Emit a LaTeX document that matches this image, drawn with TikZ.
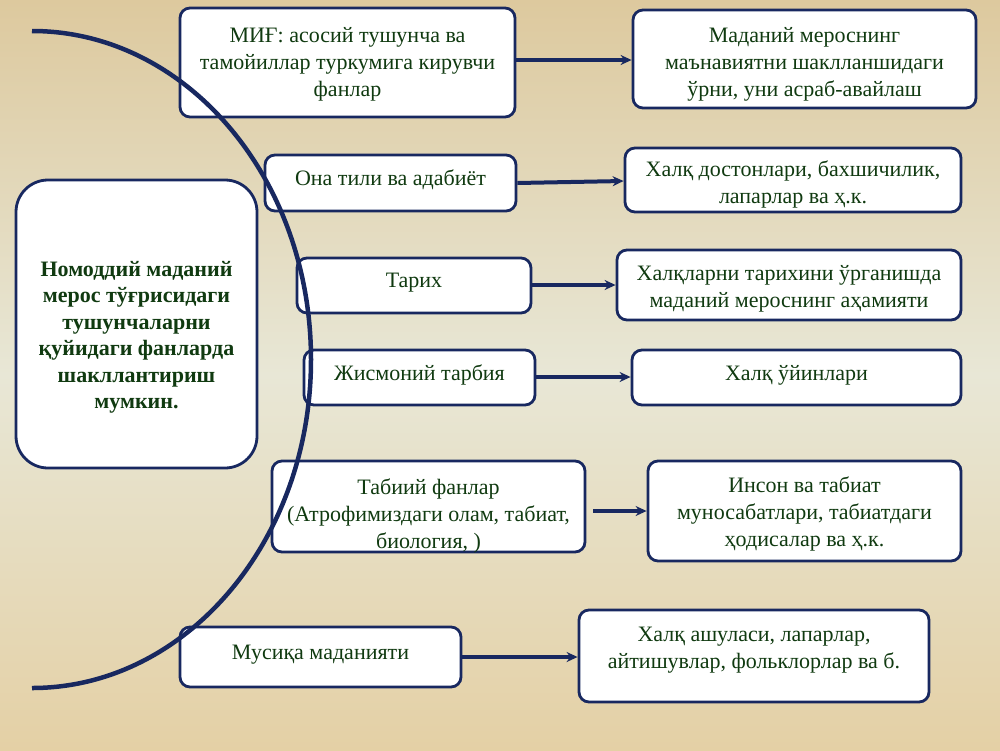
\documentclass[tikz,border=0pt]{standalone}
\usepackage{fontspec}
\setmainfont{Liberation Serif}
\usetikzlibrary{arrows.meta}
\definecolor{navy}{RGB}{24,40,96}
\definecolor{txtgreen}{RGB}{16,58,16}
\definecolor{bgtan}{RGB}{221,201,158}
\definecolor{bgmid}{RGB}{232,231,214}
\definecolor{bgbot}{RGB}{228,208,165}
\tikzset{
  box/.style={draw=navy, line width=2.8pt, fill=white, rounded corners=10pt,
    inner sep=0pt, align=center, text=txtgreen,
    font=\fontsize{22}{27}\selectfont},
  bigbox/.style={box, rounded corners=32pt, font=\fontsize{22}{26.5}\selectfont\bfseries},
  link/.style={draw=navy, line width=4pt, -{Stealth[length=11pt,width=10pt]}},
  arcline/.style={draw=navy, line width=4.5pt}
}
\newcommand{\tx}[2]{\raisebox{#1}[\height][\depth]{\begin{tabular}{@{}c@{}}#2\end{tabular}}}
\begin{document}
\begin{tikzpicture}[x=1pt,y=-1pt]
\useasboundingbox (0,0) rectangle (1000,750);
\fill[top color=bgtan, bottom color=bgbot, middle color=bgmid] (0,0) rectangle (1000,750);
% boxes
\node[box, minimum width=335, minimum height=109] (mif) at (347.5,62.5) {\tx{-1.5pt}{МИҒ: асосий тушунча ва\\тамойиллар туркумига кирувчи\\фанлар}};
\node[box, minimum width=343, minimum height=98] (mad) at (804.5,59) {\tx{-5pt}{Маданий мероснинг\\маънавиятни шаклланшидаги\\ўрни, уни асраб-авайлаш}};
\node[bigbox, minimum width=241, minimum height=288] (left) at (136.5,324) {\tx{-13pt}{Номоддий маданий\\мерос тўғрисидаги\\тушунчаларни\\қуйидаги фанларда\\шакллантириш\\мумкин.}};
\node[box, minimum width=251, minimum height=56] (ona) at (390.5,183) {\tx{3pt}{Она тили ва адабиёт}};
\node[box, minimum width=336, minimum height=64] (dost) at (793,180) {\tx{-5pt}{Халқ достонлари, бахшичилик,\\лапарлар ва ҳ.к.}};
\node[box, minimum width=234, minimum height=55] (tarix) at (414,285.5) {\tx{3pt}{Тарих}};
\node[box, minimum width=344, minimum height=70] (xalq) at (789,285) {\tx{-4pt}{Халқларни тарихини ўрганишда\\маданий мероснинг аҳамияти}};
\node[box, minimum width=231, minimum height=55] (jism) at (419.5,377.5) {\tx{2pt}{Жисмоний тарбия}};
\node[box, minimum width=329, minimum height=55] (oyin) at (796.5,377.5) {\tx{2pt}{Халқ ўйинлари}};
\node[box, minimum width=313, minimum height=91] (tabiiy) at (428.5,506.5) {\tx{-10pt}{Табиий фанлар\\(Атрофимиздаги олам, табиат,\\биология, )}};
\node[box, minimum width=313, minimum height=100] (inson) at (804.5,511) {\tx{-3pt}{Инсон ва табиат\\муносабатлари, табиатдаги\\ҳодисалар ва ҳ.к.}};
\node[box, minimum width=281, minimum height=60] (musiqa) at (320.5,657) {\tx{3pt}{Мусиқа маданияти}};
\node[box, minimum width=350, minimum height=92] (ashula) at (754,656) {\tx{6pt}{Халқ ашуласи, лапарлар,\\айтишувлар, фольклорлар ва б.}};
% arrows
\draw[link] (mif.east |- 0,60) -- (mad.west |- 0,60);
\draw[link] (ona.east |- 0,183) -- (dost.west |- 0,181);
\draw[link] (tarix.east |- 0,285) -- (xalq.west |- 0,285);
\draw[link] (jism.east |- 0,377) -- (oyin.west |- 0,377);
\coordinate (tabstart) at (593,511);
\draw[link] (tabstart) -- (inson.west |- 0,511);
\draw[link] (musiqa.east |- 0,657) -- (ashula.west |- 0,657);
% arc
\coordinate (arcstart) at (32,31);
\draw[arcline] (arcstart) arc[start angle=90, end angle=-90, x radius=279, y radius=-328.5];
\end{tikzpicture}
\end{document}
